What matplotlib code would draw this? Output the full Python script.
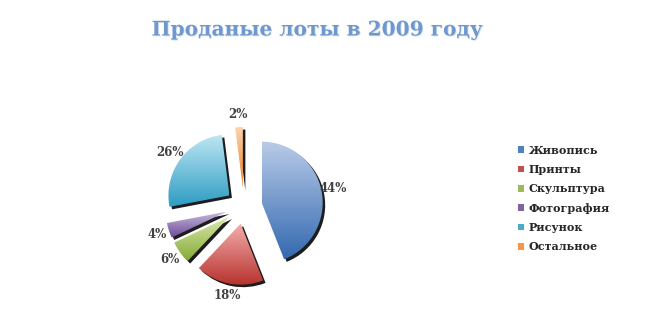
import matplotlib
matplotlib.use("Agg")
import matplotlib.pyplot as plt
import numpy as np
from matplotlib.patches import Patch
import matplotlib.patheffects as pe

# data
categories = ['Живопись', 'Принты', 'Скульптура', 'Фотография', 'Рисунок', 'Остальное']
shares = [44, 18, 6, 4, 26, 2]

# base / light / dark colours per slice
base_colors = ['#4F81BD', '#C0504D', '#9BBB59', '#8064A2', '#4BACC6', '#F79646']
light_colors = ['#B9CBE8', '#F2ACA9', '#DCEAAE', '#C6B7DC', '#BCE6F3', '#FBD3AE']
dark_colors = ['#346AB0', '#B8332F', '#84AA36', '#6A4A98', '#2E9CC2', '#EE7D1E']

plt.rcParams['font.family'] = ['DejaVu Serif']
plt.rcParams['font.weight'] = 'bold'

fig = plt.figure(figsize=(6.5, 3.1), dpi=100)
ax = fig.add_axes([0, 0, 1, 1])

# pie drawn in pixel-like data units (radius 61, explode 18)
wedges, texts, autotexts = ax.pie(
    shares, center=(244, 104), radius=61, startangle=90, counterclock=False,
    explode=[18] * len(shares), autopct='%1.0f%%', pctdistance=1.2,
    frame=True, textprops=dict(fontsize=8.5, color='#404040', fontweight='bold'))
ax.set_xlim(0, 650)
ax.set_ylim(0, 310)
ax.set_aspect('equal')
ax.axis('off')

for w, lc, dc in zip(wedges, light_colors, dark_colors):
    w.set_facecolor('none')
    w.set_edgecolor('none')
    w.set_path_effects([pe.SimplePatchShadow(offset=(1.8, -1.8), shadow_rgbFace='#111111', alpha=0.95),
                        pe.Normal()])
    ext = w.get_path().get_extents()
    cmap = matplotlib.colors.LinearSegmentedColormap.from_list('g', [dc, lc])
    grad = np.linspace(0, 1, 64).reshape(-1, 1)
    im = ax.imshow(grad, cmap=cmap, origin='lower', aspect='auto',
                   extent=[ext.x0, ext.x1, ext.y0, ext.y1], interpolation='bilinear', zorder=3)
    im.set_clip_path(w)

for t in autotexts:
    t.set_zorder(5)

fig.text(0.488, 0.905, 'Проданые лоты в 2009 году', ha='center', va='center',
         fontsize=14.5, color='#6F99CE', fontweight='bold',
         path_effects=[pe.withSimplePatchShadow(offset=(0.6, -0.6), shadow_rgbFace='#C8D6EA', alpha=0.8)])

handles = [Patch(facecolor=c, edgecolor='none') for c in base_colors]
leg = fig.legend(handles, categories, loc='center left', bbox_to_anchor=(0.788, 0.36),
                 frameon=False, fontsize=8, handlelength=0.55, handleheight=0.55,
                 handletextpad=0.45, labelspacing=0.75, borderpad=0)
for t in leg.get_texts():
    t.set_color('#262626')

fig.savefig('out.png', dpi=100)
